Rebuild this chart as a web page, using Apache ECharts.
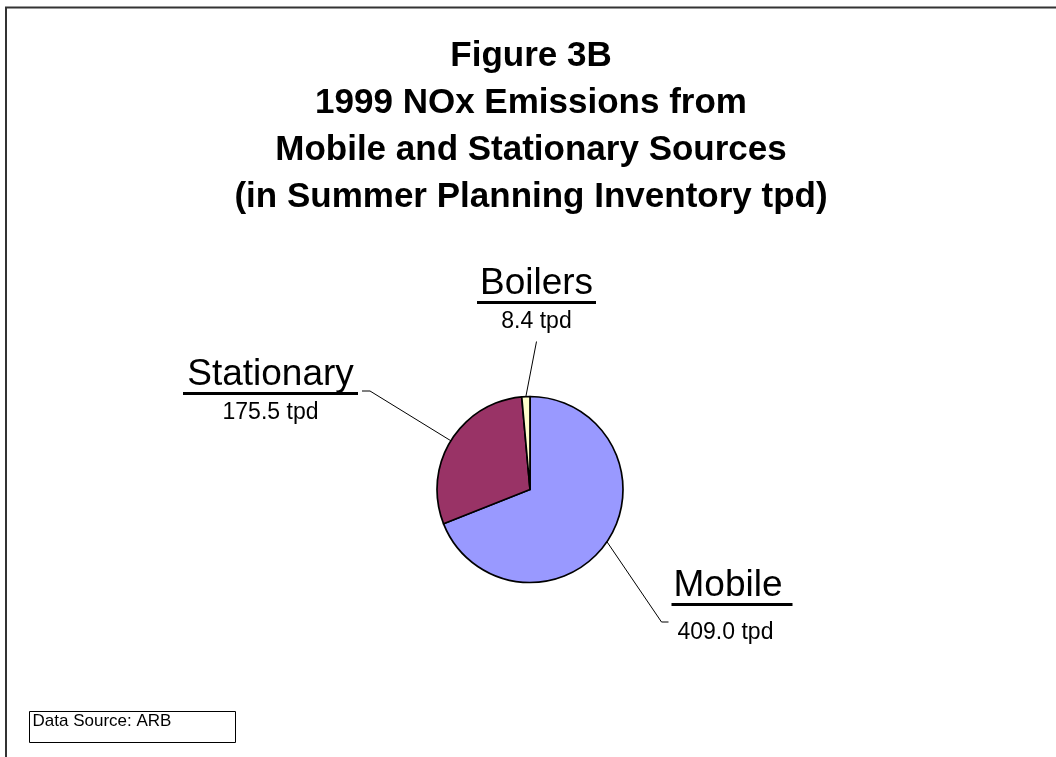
<!DOCTYPE html>
<html>
<head>
<meta charset="utf-8">
<title>Figure 3B - 1999 NOx Emissions</title>
<script src="https://cdn.jsdelivr.net/npm/echarts@6/dist/echarts.min.js"></script>
<style>
  html, body { margin: 0; padding: 0; background: #fff; }
  #chart { width: 1056px; height: 757px; }
</style>
</head>
<body>
<div id="chart"></div>
<script>
// ---- data ----
const categories = ['Mobile', 'Stationary', 'Boilers'];
const emissionsTpd = [409.0, 175.5, 8.4];
const unitLabel = 'tpd';
const titleLines = [
  'Figure 3B',
  '1999 NOx Emissions from',
  'Mobile and Stationary Sources',
  '(in Summer Planning Inventory tpd)'
];
const sourceNote = 'Data Source: ARB';

// ---- styling ----
const FONT = '"Liberation Sans", Arial, Helvetica, sans-serif';
const sliceColors = ['#9999FF', '#993366', '#FFFFCC'];

// where each label block sits and how its leader line attaches
const labelPlacement = [
  { cx: 732, top: 568, side: 'left', attachY: 54, gap: 3, elbow: 7, ulWidth: 121,
    valLineHeight: 54, leftAligned: true, namePad: 2, valPad: 6 },
  { cx: 270.5, top: 357, side: 'right', attachY: 34, gap: 4, elbow: 8, ulWidth: 175 },
  { cx: 536.5, top: 266, side: 'bottom', gap: 7, elbow: 0, ulWidth: 119 }
];

const chart = echarts.init(document.getElementById('chart'), null, { renderer: 'canvas' });

const pieData = categories.map(function (name, i) {
  const p = labelPlacement[i];
  const rich = { ul: { width: p.ulWidth } };
  if (p.valLineHeight) rich.val = { lineHeight: p.valLineHeight };
  if (p.leftAligned) {
    rich.name = { align: 'left', padding: [0, 0, 0, p.namePad] };
    rich.val = Object.assign(rich.val || {}, { align: 'left', padding: [0, 0, 0, p.valPad] });
  }
  return {
    name: name,
    value: emissionsTpd[i],
    itemStyle: { color: sliceColors[i] },
    label: { rich: rich }
  };
});

const option = {
  animation: false,
  backgroundColor: '#fff',
  title: {
    text: titleLines.join('\n'),
    left: 531,
    top: 33,
    padding: 0,
    textAlign: 'center',
    textStyle: {
      fontFamily: FONT,
      fontSize: 35,
      fontWeight: 'bold',
      lineHeight: 47,
      color: '#000'
    }
  },
  graphic: [
    {
      type: 'rect',
      silent: true,
      z: -10,
      shape: { x: 6, y: 7.5, width: 1200, height: 900 },
      style: { fill: 'none', stroke: '#333', lineWidth: 2 }
    },
    {
      type: 'group',
      x: 29,
      y: 711,
      silent: true,
      children: [
        {
          type: 'rect',
          shape: { x: 0.5, y: 0.5, width: 206, height: 31 },
          style: { fill: '#fff', stroke: '#000', lineWidth: 1 }
        },
        {
          type: 'text',
          x: 3.5,
          y: 10,
          style: {
            text: sourceNote,
            font: '17px ' + FONT,
            fill: '#000',
            verticalAlign: 'middle'
          }
        }
      ]
    }
  ],
  series: [
    {
      type: 'pie',
      center: [530, 489.5],
      radius: 93,
      startAngle: 90,
      clockwise: true,
      avoidLabelOverlap: false,
      emphasis: { disabled: true },
      itemStyle: { borderColor: '#000', borderWidth: 1.7 },
      label: {
        show: true,
        position: 'outside',
        formatter: function (p) {
          return '{name|' + p.name + '}\n{ul| }\n{val|' + p.value.toFixed(1) + ' ' + unitLabel + '}';
        },
        rich: {
          name: { fontFamily: FONT, fontSize: 37, lineHeight: 35, color: '#000', align: 'center' },
          ul: { fontSize: 3, height: 3, lineHeight: 3, backgroundColor: '#000', align: 'center' },
          val: { fontFamily: FONT, fontSize: 23, lineHeight: 36, color: '#000', align: 'center' }
        }
      },
      labelLine: {
        show: true,
        length: 15,
        length2: 10,
        smooth: false,
        lineStyle: { color: '#000', width: 1 }
      },
      labelLayout: function (params) {
        const p = labelPlacement[params.dataIndex];
        const w = params.labelRect.width;
        const h = params.labelRect.height;
        const left = p.cx - w / 2;
        let end, bend;
        if (p.side === 'left') {
          end = [left - p.gap, p.top + p.attachY];
          bend = [end[0] - p.elbow, end[1]];
        } else if (p.side === 'right') {
          end = [left + w + p.gap, p.top + p.attachY];
          bend = [end[0] + p.elbow, end[1]];
        } else {
          end = [p.cx, p.top + h + p.gap];
          bend = end.slice();
        }
        const out = { x: p.cx, y: p.top, align: 'center', verticalAlign: 'top' };
        if (params.labelLinePoints) {
          out.labelLinePoints = [params.labelLinePoints[0], bend, end];
        }
        return out;
      },
      data: pieData
    }
  ]
};

chart.setOption(option);
</script>
</body>
</html>
